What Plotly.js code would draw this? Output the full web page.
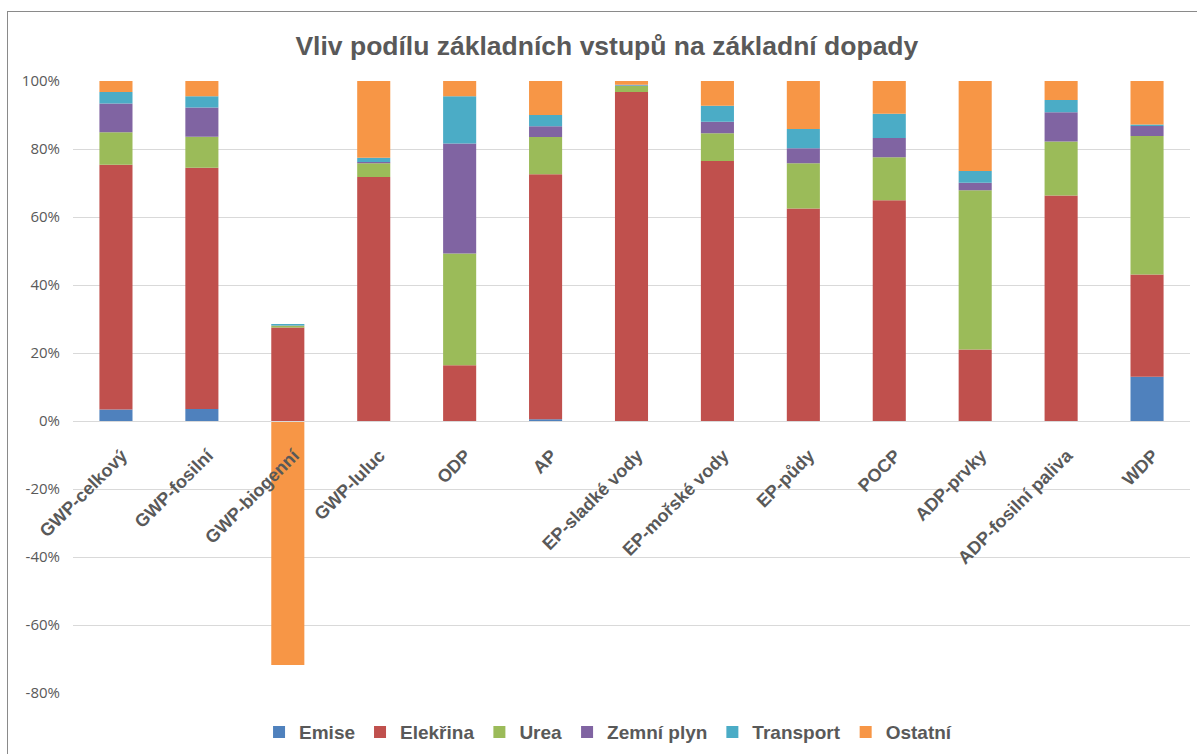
<!DOCTYPE html>
<html>
<head>
<meta charset="utf-8">
<script src="https://cdn.plot.ly/plotly-3.0.1.min.js"></script>
<style>
  html, body { margin: 0; padding: 0; background: #fff; }
  #wrap { position: relative; width: 1197px; height: 754px; overflow: hidden; }
  #chart { position: absolute; left: 0; top: 0; width: 1197px; height: 754px; }
  #frame { position: absolute; left: 7px; top: 11px; width: 1400px; height: 1000px;
           border-left: 1px solid #8a8a8a; border-top: 1px solid #8a8a8a; pointer-events: none; }
</style>
</head>
<body>
<div id="wrap">
  <div id="chart"></div>
  <div id="frame"></div>
</div>
<script>
const categories = ['GWP-celkový','GWP-fosilní','GWP-biogenní','GWP-luluc','ODP','AP','EP-sladké vody','EP-mořské vody','EP-půdy','POCP','ADP-prvky','ADP-fosilní paliva','WDP'];

const emise     = [3.4, 3.5, 0, 0, 0, 0.5, 0, 0, 0, 0, 0, 0, 13.0];
const elektrina = [72.0, 71.0, 27.5, 71.8, 16.4, 72.1, 96.8, 76.5, 62.5, 64.9, 21.0, 66.3, 30.1];
const urea      = [9.5, 9.1, 0.5, 4.0, 32.9, 10.9, 1.7, 8.1, 13.3, 12.7, 46.9, 15.9, 40.7];
const zemniPlyn = [8.5, 8.6, 0.1, 0.4, 32.3, 3.2, 0.2, 3.4, 4.4, 5.6, 2.2, 8.6, 3.0];
const transport = [3.4, 3.3, 0.4, 1.2, 13.9, 3.3, 0.2, 4.7, 5.7, 7.2, 3.4, 3.6, 0.4];
const ostatni   = [3.2, 4.5, -71.8, 22.6, 4.5, 10.0, 1.1, 7.3, 14.1, 9.6, 26.5, 5.6, 12.8];

const yTickVals  = [-80, -60, -40, -20, 0, 20, 40, 60, 80, 100];
const yTickTexts = ['-80%', '-60%', '-40%', '-20%', '0%', '20%', '40%', '60%', '80%', '100%'];

const seriesNames = ['Emise', 'Elekřina', 'Urea', 'Zemní plyn', 'Transport', 'Ostatní'];
const seriesValues = [emise, elektrina, urea, zemniPlyn, transport, ostatni];
const seriesColors = ['#4f81bd', '#c0504d', '#9bbb59', '#8064a2', '#4bacc6', '#f79646'];

const traces = seriesNames.map((name, i) => ({
  type: 'bar',
  name: name,
  x: categories,
  y: seriesValues[i],
  marker: { color: seriesColors[i], line: { width: 0 } },
  hoverinfo: 'skip'
}));

const layout = {
  width: 1197,
  height: 754,
  paper_bgcolor: 'rgba(0,0,0,0)',
  plot_bgcolor: 'rgba(0,0,0,0)',
  barmode: 'relative',
  bargap: 0.615,
  margin: { l: 73, r: 7, t: 81, b: 61, autoexpand: false },
  title: {
    text: 'Vliv podílu základních vstupů na základní dopady',
    font: { family: 'Liberation Sans, Arial, sans-serif', size: 26.5, color: '#595959', weight: 'bold' },
    x: 0.507, xref: 'container', xanchor: 'center',
    y: 0.94, yref: 'container', yanchor: 'middle'
  },
  xaxis: {
    type: 'category',
    anchor: 'free',
    position: 80 / 180,
    automargin: false,
    tickangle: -45,
    showgrid: false,
    showline: true,
    linecolor: '#d9d9d9',
    linewidth: 1,
    ticks: '',
    ticklabelstandoff: 16,
    ticklabelshift: 6,
    tickfont: { family: 'Liberation Sans, Arial, sans-serif', size: 18, color: '#595959', weight: 'bold' },
    fixedrange: true
  },
  yaxis: {
    range: [-80, 100],
    automargin: false,
    tickmode: 'array',
    tickvals: yTickVals,
    ticktext: yTickTexts,
    showgrid: true,
    gridcolor: '#d9d9d9',
    gridwidth: 1,
    zeroline: false,
    showline: false,
    ticks: '',
    ticklabelstandoff: 12,
    tickfont: { family: 'Open Sans, sans-serif', size: 15, color: '#595959' },
    fixedrange: true
  },
  legend: {
    orientation: 'h',
    x: 0.479, xanchor: 'center',
    y: -0.064, yanchor: 'middle',
    font: { family: 'Liberation Sans, Arial, sans-serif', size: 19, color: '#595959', weight: 'bold' },
    itemwidth: 30,
    traceorder: 'normal'
  },
  showlegend: true
};

Plotly.newPlot('chart', traces, layout, { displayModeBar: false, staticPlot: true });
</script>
</body>
</html>
